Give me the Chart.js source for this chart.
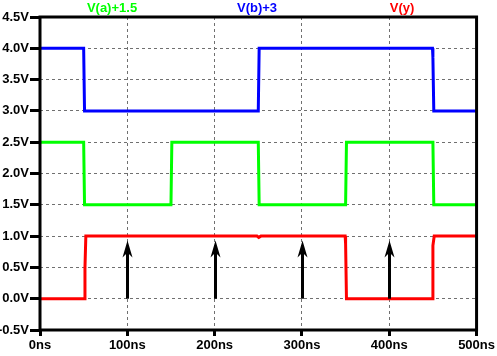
<!DOCTYPE html>
<html>
<head>
<meta charset="utf-8">
<script src="https://cdn.jsdelivr.net/npm/chart.js@4"></script>
<style>
  html, body { margin: 0; padding: 0; background: #fff; }
  canvas { display: block; }
</style>
</head>
<body>
<canvas id="c" width="497" height="356"></canvas>
<script>
// ---- data (time in ns, voltage in V) ----
const traceNames = ['V(a)+1.5', 'V(b)+3', 'V(y)'];
const traceColors = ['#00ff00', '#0000ff', '#ff0000'];

const aTime = [0, 50, 51, 150, 151, 250, 251, 350, 351, 450, 451, 500];
const aVolt = [2.5, 2.5, 1.5, 1.5, 2.5, 2.5, 1.5, 1.5, 2.5, 2.5, 1.5, 1.5];

const bTime = [0, 50, 51, 250, 251, 449.5, 450, 451, 500];
const bVolt = [4, 4, 3, 3, 4, 4, 3.85, 3, 3];

const yTime = [0, 50.5, 51.5, 52.5, 248.5, 250.5, 253, 349.5, 350, 351, 449.5, 450, 451.5, 500];
const yVolt = [0, 0, 0.5, 1, 1, 0.98, 1, 1, 0.88, 0, 0, 0.85, 1, 1];

const arrowTimes = [100, 200, 300, 400];
const arrowBase = [0, 0, 0, 0];
const arrowTip = [0.93, 0.93, 0.93, 0.93];

const xTickValues = [0, 100, 200, 300, 400, 500];
const yTickValues = [-0.5, 0, 0.5, 1, 1.5, 2, 2.5, 3, 3.5, 4, 4.5];

const zip = (t, v) => t.map((x, i) => ({ x: x, y: v[i] }));

const FONT = { family: '"Liberation Sans", Arial, sans-serif', size: 13, weight: 'bold' };

const overlay = {
  id: 'overlay',
  afterDatasetsDraw(chart) {
    const ctx = chart.ctx;
    const xs = chart.scales.x, ys = chart.scales.y;
    // arrows
    ctx.save();
    ctx.fillStyle = '#000';
    ctx.strokeStyle = '#000';
    arrowTimes.forEach((t, i) => {
      const px = Math.round(xs.getPixelForValue(t)) + 0.5;
      const pb = ys.getPixelForValue(arrowBase[i]);
      const pt = ys.getPixelForValue(arrowTip[i]);
      ctx.lineWidth = 3;
      ctx.beginPath();
      ctx.moveTo(px, pb);
      ctx.lineTo(px, pt + 10);
      ctx.stroke();
      ctx.beginPath();
      ctx.moveTo(px, pt);
      ctx.lineTo(px + 5, pt + 17);
      ctx.lineTo(px, pt + 12);
      ctx.lineTo(px - 5, pt + 17);
      ctx.closePath();
      ctx.fill();
    });
    // frame
    const a = chart.chartArea;
    ctx.lineWidth = 3;
    ctx.strokeRect(a.left, a.top, a.right - a.left, a.bottom - a.top);
    ctx.restore();
  },
  afterDraw(chart) {
    const ctx = chart.ctx;
    const centers = [112, 257, 402];
    ctx.save();
    ctx.font = 'bold 13px "Liberation Sans", Arial, sans-serif';
    ctx.textAlign = 'center';
    ctx.textBaseline = 'middle';
    traceNames.forEach((n, i) => {
      ctx.fillStyle = traceColors[i];
      ctx.fillText(n, centers[i], 8.5);
    });
    ctx.restore();
  }
};

new Chart(document.getElementById('c'), {
  type: 'line',
  data: {
    datasets: [
      { label: traceNames[0], data: zip(aTime, aVolt), borderColor: traceColors[0], borderWidth: 3, pointRadius: 0, tension: 0, fill: false },
      { label: traceNames[1], data: zip(bTime, bVolt), borderColor: traceColors[1], borderWidth: 3, pointRadius: 0, tension: 0, fill: false },
      { label: traceNames[2], data: zip(yTime, yVolt), borderColor: traceColors[2], borderWidth: 3, pointRadius: 0, tension: 0, fill: false }
    ]
  },
  options: {
    responsive: false,
    animation: false,
    devicePixelRatio: 1,
    layout: { padding: { top: 17, right: 20, left: 0, bottom: 0 } },
    plugins: { legend: { display: false }, tooltip: { enabled: false } },
    scales: {
      x: {
        type: 'linear',
        min: 0, max: 500,
        afterBuildTicks: s => { s.ticks = xTickValues.map(v => ({ value: v })); },
        afterFit: s => { s.height = 26; },
        ticks: { color: '#000', font: FONT, padding: 2, maxRotation: 0, autoSkip: false,
                 callback: v => v + 'ns' },
        grid: { color: '#707070', lineWidth: 1, tickLength: 6, tickColor: '#000', tickWidth: 3 },
        border: { display: false, dash: [3, 3] }
      },
      y: {
        type: 'linear',
        min: -0.5, max: 4.5,
        afterBuildTicks: s => { s.ticks = yTickValues.map(v => ({ value: v })); },
        afterFit: s => { s.width = 40; },
        ticks: { color: '#000', font: FONT, padding: 1, autoSkip: false,
                 callback: v => v.toFixed(1) + 'V' },
        grid: { color: '#707070', lineWidth: 1, tickLength: 10, tickColor: '#000', tickWidth: 3 },
        border: { display: false, dash: [3, 3] }
      }
    }
  },
  plugins: [overlay]
});
</script>
</body>
</html>
